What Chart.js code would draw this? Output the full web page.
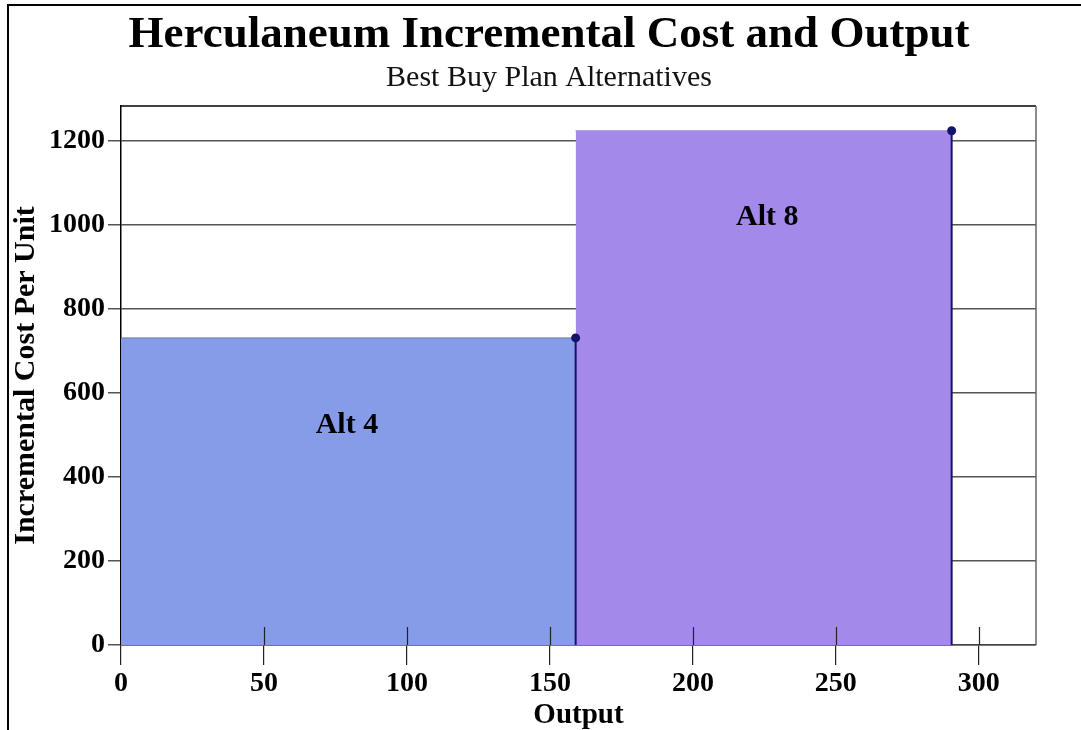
<!DOCTYPE html>
<html>
<head>
<meta charset="utf-8">
<script src="https://cdn.jsdelivr.net/npm/chart.js@4/dist/chart.umd.min.js"></script>
<style>
  html, body { margin: 0; padding: 0; background: #fff; overflow: hidden; }
  #wrap { position: relative; width: 1081px; height: 730px; }
  #frame { position: absolute; left: 7px; top: 4px; width: 1200px; height: 900px;
           border-left: 2px solid #000; border-top: 2px solid #000; pointer-events: none; }
</style>
</head>
<body>
<div id="wrap">
  <canvas id="chart" width="1081" height="730"></canvas>
  <div id="frame"></div>
</div>
<script>
// datos
const alternatives = ["Alt 4", "Alt 8"];
const outputStart = [0, 159];
const outputEnd = [159, 290.5];
const costPerUnit = [731, 1224];
const fillColors = ["#879ce8", "#a38aea"];
const labelX = [79, 226];
const labelY = [524, 1019];
const xTicks = [0, 50, 100, 150, 200, 250, 300];
const yTicks = [0, 200, 400, 600, 800, 1000, 1200];
const xMax = 320;
const yMax = 1283;

const navy = "#14146e";
const serif = "'Liberation Serif', 'Times New Roman', serif";

const datasets = alternatives.map((name, i) => ({
  label: name,
  data: [
    { x: outputStart[i], y: costPerUnit[i] },
    { x: outputEnd[i], y: costPerUnit[i] },
    { x: outputEnd[i], y: 0 },
  ],
  fill: "origin",
  backgroundColor: fillColors[i],
  borderColor: navy,
  borderWidth: 2,
  segment: {
    borderColor: (ctx) => (ctx.p0.parsed.x === ctx.p1.parsed.x ? navy : i === 0 ? "#6f78a8" : fillColors[i]),
    borderWidth: (ctx) => (ctx.p0.parsed.x === ctx.p1.parsed.x ? 2 : 1),
  },
  pointRadius: [0, 3.5, 0],
  pointBackgroundColor: navy,
  pointBorderColor: navy,
  tension: 0,
}));

// linea base de la serie
datasets.push({
  label: "base",
  data: [
    { x: outputStart[0], y: 0 },
    { x: outputEnd[outputEnd.length - 1], y: 0 },
  ],
  fill: false,
  borderColor: navy,
  borderWidth: 2,
  pointRadius: 0,
});

const plugin_marco = {
  id: "marco",
  afterDatasetsDraw: (chart) => {
    const { ctx, chartArea, scales } = chart;
    ctx.save();
    // marcas internas del eje x
    ctx.strokeStyle = "#222";
    ctx.lineWidth = 1.2;
    xTicks.forEach((v) => {
      if (v === 0) return;
      const px = Math.round(scales.x.getPixelForValue(v)) + 0.5;
      ctx.beginPath();
      ctx.moveTo(px, chartArea.bottom - 18);
      ctx.lineTo(px, chartArea.bottom);
      ctx.stroke();
    });
    // borde superior y derecho
    ctx.strokeStyle = "#000";
    ctx.lineWidth = 1.5;
    ctx.beginPath();
    ctx.moveTo(chartArea.left, chartArea.top);
    ctx.lineTo(chartArea.right, chartArea.top);
    ctx.stroke();
    ctx.strokeStyle = "#666";
    ctx.beginPath();
    ctx.moveTo(chartArea.right, chartArea.top);
    ctx.lineTo(chartArea.right, chartArea.bottom);
    ctx.stroke();
    // etiquetas de las alternativas
    ctx.fillStyle = "#000";
    ctx.font = "bold 30px " + serif;
    ctx.textAlign = "center";
    ctx.textBaseline = "middle";
    alternatives.forEach((name, i) => {
      ctx.fillText(name, scales.x.getPixelForValue(labelX[i]), scales.y.getPixelForValue(labelY[i]));
    });
    ctx.restore();
  },
};

const ctx = document.getElementById("chart").getContext("2d");
const chart = new Chart(ctx, {
  type: "line",
  data: { datasets: datasets },
  options: {
    responsive: false,
    animation: false,
    layout: { padding: { left: 17, right: 0, top: 0, bottom: 0 } },
    plugins: {
      legend: { display: false },
      tooltip: { enabled: false },
      title: {
        display: true,
        text: "Herculaneum Incremental Cost and Output",
        color: "#000",
        font: { family: serif, size: 45, weight: "bold", lineHeight: 1 },
        padding: { top: 13, bottom: 0 },
      },
      subtitle: {
        display: true,
        text: "Best Buy Plan Alternatives",
        color: "#111",
        font: { family: serif, size: 30, weight: "normal", lineHeight: 1 },
        padding: { top: 5, bottom: 13 },
      },
    },
    scales: {
      x: {
        type: "linear",
        min: 0,
        max: xMax,
        afterBuildTicks: (s) => { s.ticks = xTicks.map((v) => ({ value: v })); },
        afterFit: (s) => { s.height = 85; },
        ticks: {
          color: "#000",
          font: { family: serif, size: 28, weight: "bold" },
          padding: 2,
          maxRotation: 0,
          callback: (v) => String(v),
        },
        grid: { drawOnChartArea: false, tickLength: 20, color: "#222", lineWidth: 1.2 },
        border: { color: "#444", width: 1.5 },
        title: {
          display: true,
          text: "Output",
          color: "#000",
          font: { family: serif, size: 29, weight: "bold", lineHeight: 1 },
          padding: { top: 2, bottom: 0 },
        },
      },
      y: {
        type: "linear",
        min: 0,
        max: yMax,
        afterBuildTicks: (s) => { s.ticks = yTicks.map((v) => ({ value: v })); },
        afterFit: (s) => { s.width = 104; },
        ticks: {
          color: "#000",
          font: { family: serif, size: 28, weight: "bold" },
          padding: 3,
          callback: (v) => String(v),
        },
        grid: { color: "#555", lineWidth: 1.5, tickLength: 13 },
        border: { color: "#000", width: 1.5 },
        title: {
          display: true,
          text: "Incremental Cost Per Unit",
          color: "#000",
          font: { family: serif, size: 30, weight: "bold", lineHeight: 1 },
          padding: { top: -6, bottom: 0 },
        },
      },
      yR: {
        type: "linear",
        position: "right",
        display: true,
        afterFit: (s) => { s.width = 45; },
        ticks: { display: false },
        grid: { display: false },
        border: { display: false },
      },
    },
  },
  plugins: [plugin_marco],
});
</script>
</body>
</html>
